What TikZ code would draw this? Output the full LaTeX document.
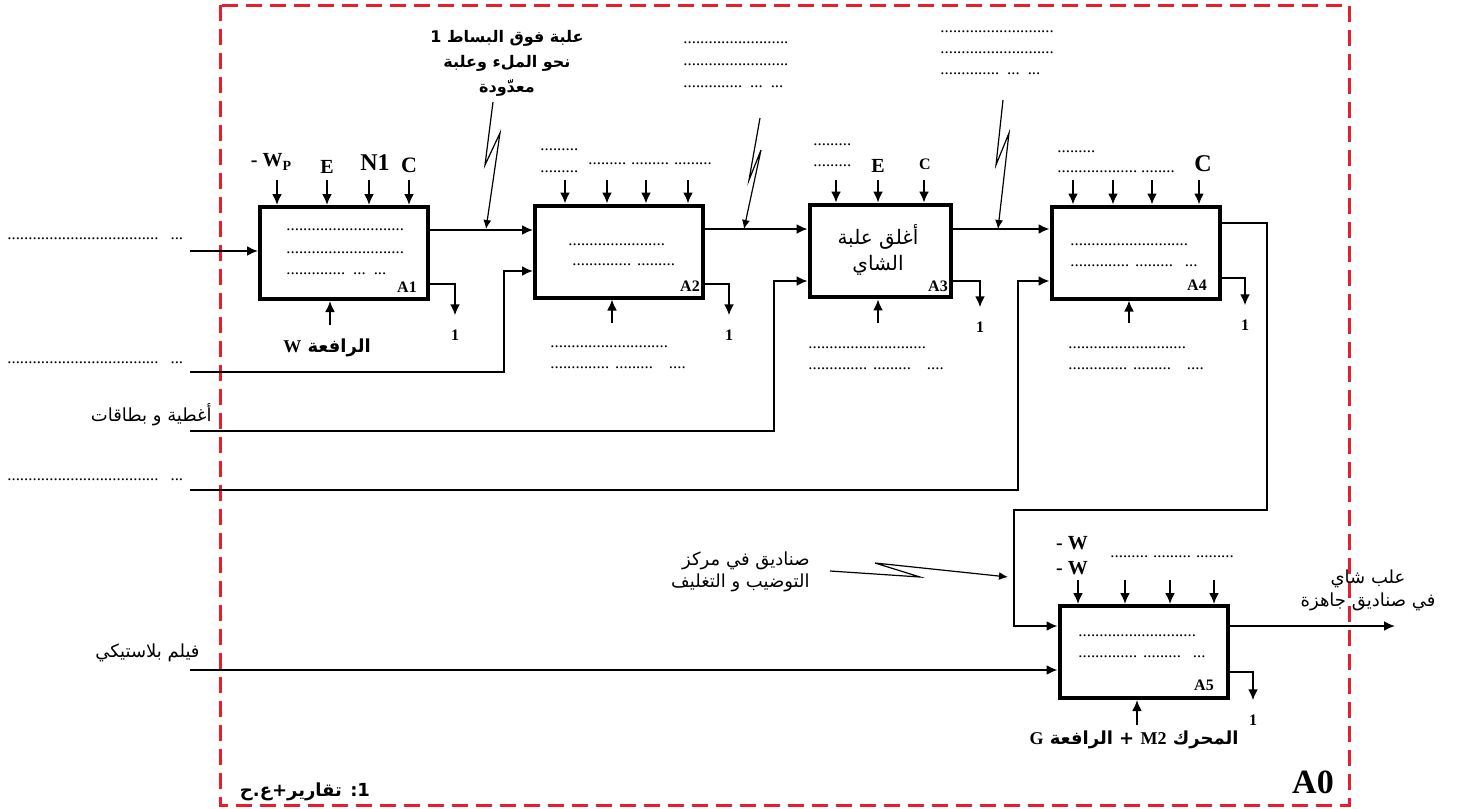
\documentclass[tikz,border=0pt]{standalone}
\usepackage{fontspec}
\setmainfont{Liberation Serif}
\newfontfamily\arabicfont[Script=Arabic]{DejaVu Sans}
\TeXXeTstate=1
\usetikzlibrary{arrows.meta}
\definecolor{framered}{RGB}{232,30,45}

\newcommand{\dotrun}[1]{\foreach\i in {1,...,#1}{.}}
\newcommand{\artxt}[1]{{\arabicfont\beginR #1\endR}}

\begin{document}
\begin{tikzpicture}[x=0.5pt,y=-0.5pt,
  box/.style={draw,line width=2pt,inner sep=0pt,minimum width=84pt,minimum height=46pt},
  flow/.style={line width=1pt,-{Latex[length=5.5pt,width=5pt]}},
  bolt/.style={line width=0.6pt,-{Latex[length=4.5pt,width=4pt]}},
  frame/.style={draw=framered,line width=1.5pt,dash pattern=on 8pt off 4pt},
  lab/.style={font=\bfseries\fontsize{10}{12}\selectfont,inner sep=0pt},
  tag/.style={font=\bfseries\fontsize{8}{10}\selectfont,inner sep=0pt},
  num/.style={tag,inner ysep=7pt},
  dotline/.style={font=\fontsize{8.4}{10}\selectfont,inner sep=0pt,anchor=west},
  artb/.style={font=\bfseries\fontsize{9}{12.5}\selectfont,align=center,inner sep=0pt},
  artr/.style={font=\fontsize{9}{11}\selectfont,align=center,inner sep=0pt},
]
\useasboundingbox (0,0) rectangle (1458,809);

% frame of A0
\draw[frame] (220,5) rectangle (1349,805);
\node[font=\bfseries\fontsize{17}{20}\selectfont,inner sep=0pt] (a0) at (1313,782) {A0};
\node[artb] (note) at (305,792) {\artxt{1: تقارير+ع.ح}};

% activity boxes
\node[box] (a1) at (344,253) {};
\node[box] (a2) at (619,251.5) {};
\node[box,minimum width=70.5pt,line width=2.4pt] (a3) at (880.5,251) {};
\node[box] (a4) at (1135.5,252.5) {};
\node[box] (a5) at (1143.5,652) {};

\node[tag] at (407,287) {A1};
\node[tag] at (690,286) {A2};
\node[tag] at (938,286) {A3};
\node[tag] at (1197,285) {A4};
\node[tag] at (1204,685) {A5};

% text inside boxes
\node[dotline] at (286,230) {\dotrun{28}};
\node[dotline] at (286,253) {\dotrun{28}};
\node[dotline] at (286,274) {\dotrun{14}\hspace{4pt}\dotrun{3}\hspace{4pt}\dotrun{3}};
\node[dotline] at (568,245) {\dotrun{23}};
\node[dotline] at (572,265) {\dotrun{14}\hspace{3pt}\dotrun{9}};
\node[artr,font=\fontsize{10}{13}\selectfont] at (878,250) {\artxt{أغلق علبة}\\\artxt{الشاي}};
\node[dotline] at (1070,245) {\dotrun{28}};
\node[dotline] at (1070,266) {\dotrun{14}\hspace{3pt}\dotrun{9}\hspace{6pt}\dotrun{3}};
\node[dotline] at (1078,636) {\dotrun{28}};
\node[dotline] at (1078,657) {\dotrun{14}\hspace{3pt}\dotrun{9}\hspace{6pt}\dotrun{3}};

% controls
\foreach \x in {277,327,369,409} \draw[flow] (\x,180) -- (\x,0 |- a1.north);
\foreach \x in {565,607,646,688} \draw[flow] (\x,180) -- (\x,0 |- a2.north);
\foreach \x in {836,878,924} \draw[flow] (\x,180) -- (\x,0 |- a3.north);
\foreach \x in {1073,1113,1152,1199} \draw[flow] (\x,180) -- (\x,0 |- a4.north);
\foreach \x in {1078,1125,1170,1214} \draw[flow] (\x,580) -- (\x,0 |- a5.north);

\node[lab] at (271,162) {- W\raisebox{-0.4ex}{\fontsize{7}{8}\selectfont P}};
\node[lab] at (327,167) {E};
\node[lab,font=\bfseries\fontsize{12}{14}\selectfont] at (375,163) {N1};
\node[lab,font=\bfseries\fontsize{11}{13}\selectfont] at (409,165) {C};
\node[dotline] at (540,150) {\dotrun{9}};
\node[dotline] at (540,172) {\dotrun{9}};
\node[dotline] at (588,164) {\dotrun{9}\hspace{2.5pt}\dotrun{9}\hspace{2.5pt}\dotrun{9}};
\node[dotline] at (813,145) {\dotrun{9}};
\node[dotline] at (813,166) {\dotrun{9}};
\node[lab] at (878,166) {E};
\node[lab,font=\bfseries\fontsize{8}{10}\selectfont] at (925,164) {C};
\node[dotline] at (1057,152) {\dotrun{9}};
\node[dotline] at (1057,172) {\dotrun{19}\hspace{2pt}\dotrun{8}};
\node[lab,font=\bfseries\fontsize{12}{14}\selectfont] at (1203,164) {C};
\node[lab] at (1072,543) {- W};
\node[lab] at (1072,568) {- W};
\node[dotline] at (1110,557) {\dotrun{9}\hspace{2.5pt}\dotrun{9}\hspace{2.5pt}\dotrun{9}};

% mechanisms
\node[artb] (m1) at (327,348) {\artxt{الرافعة {\rmfamily W}}};
\draw[flow] (330,325) -- (330,0 |- a1.south);
\draw[flow] (612,323) -- (612,0 |- a2.south);
\draw[flow] (878,323) -- (878,0 |- a3.south);
\draw[flow] (1129,323) -- (1129,0 |- a4.south);
\node[artb] (m5) at (1134,740) {\artxt{المحرك {\rmfamily\beginL M2\endL} + الرافعة {\rmfamily G}}};
\draw[flow] (1137,725) -- (1137,0 |- a5.south);

\node[dotline] at (550,347) {\dotrun{28}};
\node[dotline] at (550,368) {\dotrun{14}\hspace{3pt}\dotrun{9}\hspace{8pt}\dotrun{4}};
\node[dotline] at (808,348) {\dotrun{28}};
\node[dotline] at (808,369) {\dotrun{14}\hspace{3pt}\dotrun{9}\hspace{8pt}\dotrun{4}};
\node[dotline] at (1068,348) {\dotrun{28}};
\node[dotline] at (1068,369) {\dotrun{14}\hspace{3pt}\dotrun{9}\hspace{8pt}\dotrun{4}};

% returns 1
\node[num] (r1) at (455,335) {1};
\node[num] (r2) at (729,335) {1};
\node[num] (r3) at (980,327) {1};
\node[num] (r4) at (1245,325) {1};
\node[num] (r5) at (1253,720) {1};
\draw[flow] (a1.east |- 0,284) -| (r1.north);
\draw[flow] (a2.east |- 0,284) -| (r2.north);
\draw[flow] (a3.east |- 0,281) -| (r3.north);
\draw[flow] (a4.east |- 0,278) -| (r4.north);
\draw[flow] (a5.east |- 0,672) -| (r5.north);

% inputs
\node[dotline] at (7,239) {\dotrun{36}\hspace{6pt}\dotrun{3}};
\node[dotline] at (7,363) {\dotrun{36}\hspace{6pt}\dotrun{3}};
\node[artr,anchor=east] at (212,415) {\artxt{أغطية و بطاقات}};
\node[dotline] at (7,480) {\dotrun{36}\hspace{6pt}\dotrun{3}};
\node[artr,anchor=east] at (200,653) {\artxt{فيلم بلاستيكي}};
\coordinate (in1) at (190,251);
\coordinate (in2) at (190,372);
\coordinate (in3) at (190,431);
\coordinate (in4) at (190,490);
\coordinate (in5) at (190,670);
\draw[flow] (in1) -- (a1.west |- in1);
\draw[flow] (in2) -| (504,271) -- (a2.west |- 504,271);
\draw[flow] (in3) -| (774,281) -- (a3.west |- 774,281);
\draw[flow] (in4) -| (1018,281) -- (a4.west |- 1018,281);
\draw[flow] (in5) -- (a5.west |- in5);

% flow between activities
\draw[flow] (a1.east |- 0,230) -- (a2.west |- 0,230);
\draw[flow] (a2.east |- 0,229) -- (a3.west |- 0,229);
\draw[flow] (a3.east |- 0,229) -- (a4.west |- 0,229);
\draw[flow] (a4.east |- 0,223) -| (1267,510) -| (1014,626) -- (a5.west |- 0,626);
\coordinate (out) at (1395,626);
\draw[flow] (a5.east |- out) -- (out);
\node[artr,font=\fontsize{9}{11.5}\selectfont] (outl) at (1368,590) {\artxt{علب شاي}\\\artxt{في صناديق جاهزة}};

% resources arriving by transport
\node[artb,font=\bfseries\fontsize{8}{12.5}\selectfont] (t1) at (507,63) {\artxt{علبة فوق البساط 1}\\\artxt{نحو الملء وعلبة}\\\artxt{معدّودة}};
\coordinate (k1) at (486,229);
\draw[bolt] (493,102) -- (485,165) -- (500,133) -- (k1);
\node[dotline] at (683,43) {\dotrun{25}};
\node[dotline] at (683,65) {\dotrun{25}};
\node[dotline] at (683,87) {\dotrun{14}\hspace{4pt}\dotrun{3}\hspace{4pt}\dotrun{3}};
\coordinate (k2) at (744,229);
\draw[bolt] (760,118) -- (749,180) -- (761,150) -- (k2);
\node[dotline] at (940,32) {\dotrun{27}};
\node[dotline] at (940,53) {\dotrun{27}};
\node[dotline] at (940,74) {\dotrun{14}\hspace{4pt}\dotrun{3}\hspace{4pt}\dotrun{3}};
\coordinate (k3) at (998,229);
\draw[bolt] (1003,100) -- (996,165) -- (1009,133) -- (k3);
\node[artr,align=right,anchor=east] (t4) at (810,572) {\artxt{صناديق في مركز}\\\artxt{التوضيب و التغليف}};
\coordinate (k4) at (1008,577);
\draw[bolt] (830,571) -- (920,577) -- (875,563) -- (k4);
\end{tikzpicture}
\end{document}
